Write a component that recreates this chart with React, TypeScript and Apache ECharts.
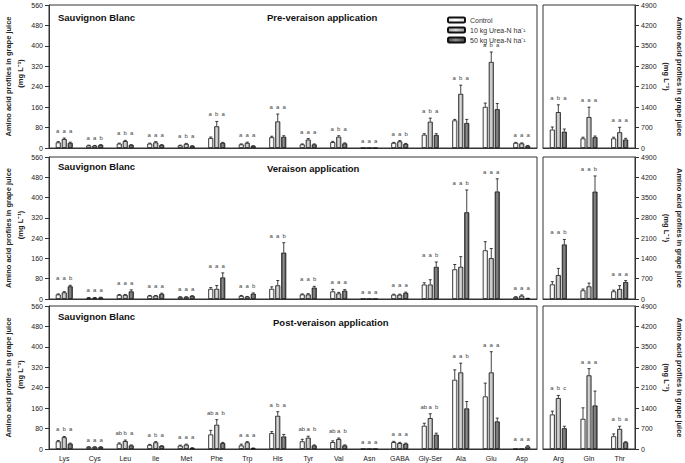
import React, { useEffect, useRef } from 'react';
import * as echarts from 'echarts';

const aminoAcids = ['Lys', 'Cys', 'Leu', 'Ile', 'Met', 'Phe', 'Trp', 'His', 'Tyr', 'Val', 'Asn', 'GABA', 'Gly-Ser', 'Ala', 'Glu', 'Asp'];
const majorAcids = ['Arg', 'Gln', 'Thr'];
const treatments = ['Control', '10 kg Urea-N ha⁻¹', '50 kg Urea-N ha⁻¹'];
const stageTitles = ['Pre-veraison application', 'Veraison application', 'Post-veraison application'];
const axisTitle = 'Amino acid profiles in grape juice';
const axisUnit = '(mg L⁻¹)';
const leftAxisMax = 560;
const leftAxisStep = 80;
const rightAxisMax = 4900;
const rightAxisStep = 700;

// Pre-veraison application
const preControl = [22, 10, 17, 17, 10, 39, 14, 42, 14, 23, 0, 20, 52, 108, 161, 20];
const preControlErr = [3, 1, 2, 2, 1, 4, 2, 4, 2, 3, 0, 2, 4, 4, 15, 2];
const pre10 = [35, 9, 27, 22, 16, 85, 20, 104, 33, 44, 0, 26, 103, 212, 337, 18];
const pre10Err = [4, 1, 3, 3, 2, 19, 3, 29, 4, 4, 0, 3, 14, 34, 39, 2];
const pre50 = [20, 12, 12, 12, 8, 20, 8, 44, 14, 18, 0, 16, 51, 98, 152, 8];
const pre50Err = [3, 1, 1, 1, 1, 2, 1, 4, 2, 2, 0, 2, 5, 14, 22, 2];
const preLetters = ['a a a', 'a a b', 'a b a', 'a a a', 'a b a', 'a b a', 'a a a', 'a a a', 'a a a', 'a b a', 'a a a', 'a a b', 'a b a', 'a b a', 'a b a', 'a a a'];
const preMajorControl = [630, 330, 330];
const preMajorControlErr = [90, 40, 40];
const preMajor10 = [1230, 1060, 540];
const preMajor10Err = [250, 340, 170];
const preMajor50 = [560, 370, 290];
const preMajor50Err = [90, 40, 40];
const preMajorLetters = ['a b a', 'a a a', 'a a a'];

// Veraison application
const verControl = [18, 5, 16, 13, 8, 40, 12, 40, 18, 30, 0, 17, 57, 117, 192, 8];
const verControlErr = [2, 1, 2, 1, 1, 5, 2, 8, 2, 8, 0, 2, 7, 19, 34, 1];
const ver10 = [26, 5, 16, 13, 8, 40, 9, 54, 18, 22, 0, 17, 57, 127, 161, 13];
const ver10Err = [3, 1, 2, 1, 1, 13, 1, 19, 3, 4, 0, 2, 19, 40, 38, 3];
const ver50 = [50, 6, 30, 20, 12, 85, 21, 183, 45, 33, 0, 24, 127, 342, 424, 2];
const ver50Err = [4, 1, 6, 3, 1, 18, 3, 39, 5, 4, 0, 3, 19, 88, 50, 1];
const verLetters = ['a a b', 'a a a', 'a a a', 'a a a', 'a a a', 'a a a', 'a a b', 'a a b', 'a a b', 'a a a', 'a a a', 'a a a', 'a a b', 'a a b', 'a a a', 'a a a'];
const verMajorControl = [505, 300, 265];
const verMajorControlErr = [92, 45, 40];
const verMajor10 = [826, 436, 345];
const verMajor10Err = [230, 114, 115];
const verMajor50 = [1882, 3706, 585];
const verMajor50Err = [172, 540, 50];
const verMajorLetters = ['a a b', 'a a b', 'a a a'];

// Post-veraison application
const postControl = [30, 8, 21, 16, 13, 57, 14, 62, 30, 27, 0, 27, 91, 271, 206, 0];
const postControlErr = [3, 1, 3, 2, 2, 16, 5, 6, 8, 5, 0, 3, 10, 39, 52, 0];
const post10 = [46, 8, 31, 26, 17, 95, 26, 130, 44, 39, 0, 23, 121, 300, 300, 0];
const post10Err = [3, 1, 4, 3, 2, 20, 3, 16, 6, 4, 0, 3, 17, 36, 81, 0];
const post50 = [21, 8, 14, 12, 4, 23, 3, 49, 14, 14, 0, 21, 56, 159, 108, 10];
const post50Err = [2, 1, 2, 1, 1, 3, 1, 8, 2, 2, 0, 2, 6, 27, 13, 3];
const postLetters = ['a b a', 'a a a', 'ab b a', 'a b a', 'a a a', 'ab a b', 'a a a', 'a b a', 'ab a b', 'ab a b', 'a a a', 'a a a', 'ab a b', 'a a b', 'a a a', 'a a a'];
const postMajorControl = [1182, 1033, 436];
const postMajorControlErr = [115, 378, 80];
const postMajor10 = [1744, 2525, 688];
const postMajor10Err = [92, 229, 92];
const postMajor50 = [711, 1492, 230];
const postMajor50Err = [69, 493, 20];
const postMajorLetters = ['a b c', 'a a a', 'a b a'];

const FONT = 'Liberation Sans, Arial, Helvetica, sans-serif';

const rows = [
  {
    left: { vals: [preControl, pre10, pre50], errs: [preControlErr, pre10Err, pre50Err], letters: preLetters },
    right: { vals: [preMajorControl, preMajor10, preMajor50], errs: [preMajorControlErr, preMajor10Err, preMajor50Err], letters: preMajorLetters },
  },
  {
    left: { vals: [verControl, ver10, ver50], errs: [verControlErr, ver10Err, ver50Err], letters: verLetters },
    right: { vals: [verMajorControl, verMajor10, verMajor50], errs: [verMajorControlErr, verMajor10Err, verMajor50Err], letters: verMajorLetters },
  },
  {
    left: { vals: [postControl, post10, post50], errs: [postControlErr, post10Err, post50Err], letters: postLetters },
    right: { vals: [postMajorControl, postMajor10, postMajor50], errs: [postMajorControlErr, postMajor10Err, postMajor50Err], letters: postMajorLetters },
  },
];

const rowTops = [5, 157, 306];
const rowHeights = [143, 142, 143];

const grad = (a: string, b: string, c: string) =>
  new echarts.graphic.LinearGradient(0, 0, 1, 0, [
    { offset: 0, color: a },
    { offset: 0.45, color: b },
    { offset: 1, color: c },
  ]);

const fills = [
  () => grad('#e6e6e6', '#ffffff', '#dcdcdc'),
  () => grad('#a4a4a4', '#dadada', '#9a9a9a'),
  () => grad('#4c4c4c', '#8e8e8e', '#474747'),
];

export default function App() {
  const ref = useRef<HTMLDivElement>(null);

  useEffect(() => {
    if (!ref.current) return;
    const chart = echarts.init(ref.current, undefined, { renderer: 'svg' });

    const grids: any[] = [];
    const xAxes: any[] = [];
    const yAxes: any[] = [];
    const series: any[] = [];

    rows.forEach((row, r) => {
      [0, 1].forEach((side) => {
        const g = r * 2 + side;
        const isLeft = side === 0;
        const cats = isLeft ? aminoAcids : majorAcids;
        const block = isLeft ? row.left : row.right;
        grids.push({
          left: isLeft ? 49 : 543,
          top: rowTops[r],
          width: isLeft ? 488 : 92,
          height: rowHeights[r],
          show: true,
          borderColor: '#333',
          borderWidth: 1,
          backgroundColor: 'transparent',
        });
        xAxes.push({
          type: 'category',
          gridIndex: g,
          data: cats,
          axisLine: { lineStyle: { color: '#333', width: 1 } },
          axisTick: { alignWithLabel: true, interval: 0, length: 3, lineStyle: { color: '#333' } },
          axisLabel: { show: r === 2, interval: 0, fontSize: 7, color: '#222', fontFamily: FONT, margin: 6 },
          splitLine: { show: false },
        });
        yAxes.push({
          type: 'value',
          gridIndex: g,
          position: isLeft ? 'left' : 'right',
          min: 0,
          max: isLeft ? leftAxisMax : rightAxisMax,
          interval: isLeft ? leftAxisStep : rightAxisStep,
          axisLine: { show: true, lineStyle: { color: '#333', width: 1 } },
          axisTick: { show: true, length: 4, lineStyle: { color: '#333' } },
          axisLabel: { fontSize: 7, color: '#222', fontFamily: FONT, margin: 6, formatter: (v: number) => String(v) },
          splitLine: { show: false },
        });
        treatments.forEach((t, k) => {
          series.push({
            type: 'bar',
            name: t,
            xAxisIndex: g,
            yAxisIndex: g,
            data: block.vals[k],
            barWidth: 5,
            barGap: '20%',
            itemStyle: { color: fills[k](), borderColor: '#111', borderWidth: 0.8 },
            z: 2,
          });
        });
        series.push({
          type: 'custom',
          xAxisIndex: g,
          yAxisIndex: g,
          z: 5,
          clip: false,
          silent: true,
          itemStyle: { color: '#444' },
          data: cats.map((_, i) => [i, Math.max(...block.vals.map((v, k) => v[i] + block.errs[k][i]))]),
          encode: { x: 0, y: 1 },
          renderItem: (params: any, api: any) => {
            const i = params.dataIndex;
            const children: any[] = [];
            let minY = api.coord([i, 0])[1];
            const letters = block.letters[i].split(' ');
            for (let k = 0; k < 3; k++) {
              const v = block.vals[k][i];
              const e = block.errs[k][i];
              const base = api.coord([i, v]);
              const x = base[0] + (k - 1) * 6;
              const yTop = api.coord([i, v + e])[1];
              if (e > 0) {
                children.push({ type: 'line', shape: { x1: x, y1: base[1], x2: x, y2: yTop }, style: { stroke: '#111', lineWidth: 0.8 } });
                children.push({ type: 'line', shape: { x1: x - 1.5, y1: yTop, x2: x + 1.5, y2: yTop }, style: { stroke: '#111', lineWidth: 0.8 } });
              }
              minY = Math.min(minY, yTop, base[1]);
            }
            const base0 = api.coord([i, 0]);
            for (let k = 0; k < 3; k++) {
              children.push({
                type: 'text',
                x: base0[0] + (k - 1) * 6.5,
                y: minY - 4,
                style: {
                  text: letters[k] || '',
                  fontSize: 6,
                  fontFamily: FONT,
                  fill: '#444',
                  align: 'center',
                  verticalAlign: 'bottom',
                },
              });
            }
            return { type: 'group', children };
          },
        });
      });
    });

    const graphics: any[] = [];
    const titleY = [18, 167, 317];
    const stageX = [267, 267, 273];
    const stageY = [18, 169, 323];
    const nameStyle = { fontSize: 7.5, fontWeight: 'bold', fontFamily: FONT, fill: '#222', align: 'center', verticalAlign: 'middle' };
    rows.forEach((_, r) => {
      const cy = rowTops[r] + rowHeights[r] / 2;
      graphics.push({
        type: 'text',
        left: 58,
        top: titleY[r] - 6,
        style: { text: 'Sauvignon Blanc', fontSize: 9.5, fontWeight: 'bold', fontFamily: FONT, fill: '#111' },
      });
      graphics.push({
        type: 'text',
        left: stageX[r],
        top: stageY[r] - 6,
        style: { text: stageTitles[r], fontSize: 9.5, fontWeight: 'bold', fontFamily: FONT, fill: '#111' },
      });
      graphics.push({ type: 'text', x: 8, y: cy, rotation: Math.PI / 2, style: { ...nameStyle, text: axisTitle } });
      graphics.push({ type: 'text', x: 20, y: cy - 3, rotation: Math.PI / 2, style: { ...nameStyle, text: axisUnit } });
      graphics.push({ type: 'text', x: 679, y: cy, rotation: -Math.PI / 2, style: { ...nameStyle, text: axisTitle } });
      graphics.push({ type: 'text', x: 666, y: cy, rotation: -Math.PI / 2, style: { ...nameStyle, text: axisUnit } });
    });

    chart.setOption({
      animation: false,
      backgroundColor: '#ffffff',
      textStyle: { fontFamily: FONT },
      grid: grids,
      xAxis: xAxes,
      yAxis: yAxes,
      series,
      legend: {
        data: treatments,
        orient: 'vertical',
        left: 442,
        top: 11,
        itemWidth: 17,
        itemHeight: 5,
        itemGap: 2,
        icon: 'roundRect',
        textStyle: { fontSize: 7, color: '#333', fontFamily: FONT, lineHeight: 8 },
        selectedMode: false,
      },
      graphic: graphics,
    });

    return () => chart.dispose();
  }, []);

  return <div ref={ref} style={{ position: 'fixed', left: 0, top: 0, width: 685, height: 463, background: '#fff' }} />;
}
